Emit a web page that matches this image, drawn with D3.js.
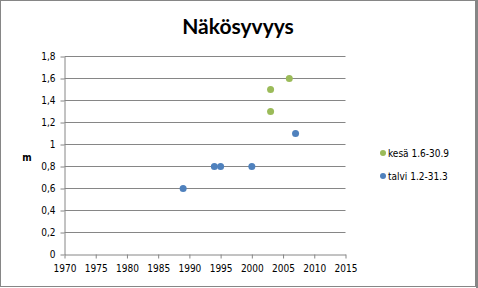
<!DOCTYPE html>
<html>
<head>
<meta charset="utf-8">
<script src="https://cdn.jsdelivr.net/npm/d3@7"></script>
<style>
	body { margin: 0; background: #fff; }
</style>
</head>
<body>
<div class="chart"></div>
<script>
// Näkösyvyys - scatter
const kesaYears = [2003, 2003, 2006]
const kesaValues = [1.5, 1.3, 1.6]
const talviYears = [1989, 1994, 1995, 2000, 2007]
const talviValues = [0.6, 0.8, 0.8, 0.8, 1.1]
const xTicks = [1970, 1975, 1980, 1985, 1990, 1995, 2000, 2005, 2010, 2015]
const yTicks = [0, 0.2, 0.4, 0.6, 0.8, 1, 1.2, 1.4, 1.6, 1.8]
const seriesNames = ['kesä 1.6-30.9', 'talvi 1.2-31.3']
const seriesColors = ['#9bbb59', '#4f81bd']

const W = 478, H = 288
const labelFont = 'DejaVu Sans Condensed, DejaVu Sans, sans-serif'

const svg = d3.select('.chart')
	.append('svg')
	.attr('width', W)
	.attr('height', H)

// chart border
svg.append('rect')
	.attr('x', 0.5).attr('y', 0.5)
	.attr('width', 475).attr('height', 286)
	.attr('fill', 'white')
	.attr('stroke', '#868686')
	.attr('stroke-width', 1)
svg.append('line')
	.attr('x1', 477).attr('x2', 477).attr('y1', 0).attr('y2', H)
	.attr('stroke', '#868686').attr('stroke-width', 2)

const xScale = d3.scaleLinear().domain([1970, 2015]).range([64.5, 345.5])
const yScale = d3.scaleLinear().domain([0, 1.8]).range([254.5, 56.5])

// gridlines
svg.append('g').selectAll('line')
	.data(yTicks.filter(d => d > 0))
	.enter()
	.append('line')
	.attr('x1', 64.5).attr('x2', 345.5)
	.attr('y1', d => yScale(d)).attr('y2', d => yScale(d))
	.attr('stroke', '#868686')

const fmt = d => String(d).replace('.', ',')

const yAxis = d3.axisLeft(yScale)
	.tickValues(yTicks)
	.tickFormat(fmt)
	.tickSize(4)
	.tickSizeOuter(0)
const xAxis = d3.axisBottom(xScale)
	.tickValues(xTicks)
	.tickFormat(d3.format('d'))
	.tickSize(4)
	.tickSizeOuter(0)

const gy = svg.append('g')
	.attr('transform', 'translate(64.5,0)')
	.call(yAxis)
gy.select('.domain').attr('stroke', '#868686')
gy.selectAll('.tick line').attr('stroke', '#868686')
gy.selectAll('.tick text')
	.attr('x', -9)
	.style('font-family', labelFont)
	.style('font-size', '10px')
	.attr('fill', '#000')

const gx = svg.append('g')
	.attr('transform', 'translate(0,254.5)')
	.call(xAxis)
gx.select('.domain').attr('stroke', '#868686')
gx.selectAll('.tick line').attr('stroke', '#868686')
gx.selectAll('.tick text')
	.attr('y', 10)
	.style('font-family', labelFont)
	.style('font-size', '10px')
	.attr('fill', '#000')

// title
svg.append('text')
	.attr('x', 238)
	.attr('y', 34)
	.attr('text-anchor', 'middle')
	.style('font-family', 'Lato, sans-serif')
	.style('font-weight', 'bold')
	.style('font-size', '21px')
	.text('Näkösyvyys')

// y-axis label
svg.append('text')
	.attr('x', 27)
	.attr('y', 161)
	.attr('text-anchor', 'middle')
	.style('font-family', labelFont)
	.style('font-weight', 'bold')
	.style('font-size', '10px')
	.text('m')

// points
const series = [
	kesaYears.map((y, i) => ({x: y, y: kesaValues[i]})),
	talviYears.map((y, i) => ({x: y, y: talviValues[i]}))
]
series.forEach((pts, s) => {
	svg.append('g').selectAll('circle')
		.data(pts)
		.enter()
		.append('circle')
		.attr('cx', d => xScale(d.x))
		.attr('cy', d => yScale(d.y))
		.attr('r', 3.5)
		.attr('fill', seriesColors[s])
})

// legend
const legend = svg.append('g').selectAll('g')
	.data(seriesNames)
	.enter()
	.append('g')
	.attr('transform', (d, i) => `translate(383, ${153 + i * 23})`)
legend.append('circle')
	.attr('r', 3)
	.attr('fill', (d, i) => seriesColors[i])
legend.append('text')
	.attr('x', 5)
	.attr('y', 4)
	.style('font-family', labelFont)
	.style('font-size', '10px')
	.text(d => d)
</script>
</body>
</html>
